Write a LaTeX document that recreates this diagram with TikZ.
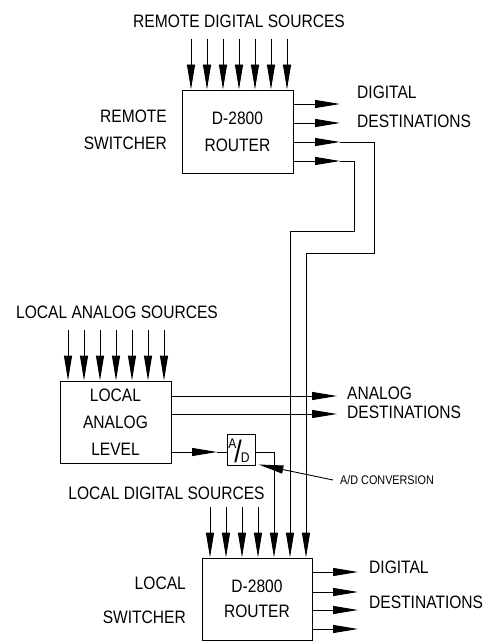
\documentclass[tikz,border=0pt]{standalone}
\usepackage{fontspec}
\setmainfont[FakeStretch=0.865]{Liberation Sans}
\usetikzlibrary{arrows.meta,calc}
\tikzset{
  sig/.style={line width=0.9pt},
  arr/.style={sig, -{Triangle[length=25pt,width=8pt]}},
  unit/.style={draw, line width=0.9pt, minimum width=#1, minimum height=82pt,
               inner sep=0pt, align=center, font=\fontsize{18}{27}\selectfont},
  unit/.default=111pt,
  txt/.style={inner sep=0pt, font=\fontsize{18}{22}\selectfont},
  conv/.style={draw, line width=0.9pt, minimum width=28pt, minimum height=31pt, inner sep=0pt},
}

\begin{document}
\begin{tikzpicture}[x=1pt,y=-1pt]
  \useasboundingbox (0,0) rectangle (485,642);
  % remote switcher
  \node[unit, minimum height=83pt] (rrt) at (237.5,131.5) {D-2800\\ROUTER};
  \node[txt] (rsrc) at (239,21) {REMOTE DIGITAL SOURCES};
  \node[txt, anchor=east, align=right, font=\fontsize{18}{27}\selectfont] (rsw) at (167,129.5) {REMOTE\\SWITCHER};
  \node[txt, anchor=west, align=left, font=\fontsize{18}{29}\selectfont] (rdst) at (357,106.5) {DIGITAL\\DESTINATIONS};
  \foreach \x [count=\i] in {191,207,...,287} {
    \coordinate (rs\i) at (\x,39);
    \draw[arr] (rs\i) -- (rs\i |- rrt.north);
  }
  \foreach \y [count=\i] in {104,123} {
    \coordinate (rd\i) at (340,\y);
    \draw[arr] (rrt.east |- rd\i) -- (rd\i);
  }
  \coordinate (k1) at (340,142);
  \coordinate (k2) at (340,161);
  \draw[arr] (rrt.east |- k1) -- (k1);
  \draw[arr] (rrt.east |- k2) -- (k2);

  % local analog level
  \node[unit] (ana) at (115.5,422) {LOCAL\\ANALOG\\LEVEL};
  \node[txt, anchor=west] (asrc) at (16,312) {LOCAL ANALOG SOURCES};
  \node[txt, anchor=west, align=left, font=\fontsize{18}{19}\selectfont] (adst) at (347,402.5) {ANALOG\\DESTINATIONS};
  \foreach \x [count=\i] in {68,84,...,164} {
    \coordinate (as\i) at (\x,330);
    \draw[arr] (as\i) -- (as\i |- ana.north);
  }
  \foreach \y [count=\i] in {396,414} {
    \coordinate (ad\i) at (337,\y);
    \draw[arr] (ana.east |- ad\i) -- (ad\i);
  }
  \node[conv] (adc) at (241,449.5)
    {\rule{0pt}{26.2pt}\fontsize{14}{14}\selectfont\raisebox{14.4pt}{A}\kern-2pt{\fontsize{31}{31}\selectfont/}\kern-1pt D\kern4pt};
  \coordinate (k3) at (217,452);
  \draw[arr] (ana.east |- k3) -- (k3);
  \draw[sig] (k3) -- (adc.west |- k3);
  \node[txt, anchor=west, font=\fontsize{12.5}{15}\selectfont] (adl) at (340,480) {A/D CONVERSION};
  \draw[arr] ($(adl.west)+(-7,0)$) -- ($(adc.south east)+(3,-1)$);

  % local switcher
  \node[unit=110pt, font=\fontsize{18}{25}\selectfont] (lrt) at (257,599) {D-2800\\ROUTER};
  \node[txt] (lsrc) at (166.5,493) {LOCAL DIGITAL SOURCES};
  \node[txt, anchor=east, align=right, font=\fontsize{18}{34}\selectfont] (lsw) at (186,600) {LOCAL\\SWITCHER};
  \node[txt, anchor=west, align=left, font=\fontsize{18}{35}\selectfont] (ldst) at (369,584.5) {DIGITAL\\DESTINATIONS};
  \foreach \x [count=\i] in {210,226,242,258} {
    \coordinate (ls\i) at (\x,507);
    \draw[arr] (ls\i) -- (ls\i |- lrt.north);
  }
  \foreach \y [count=\i] in {572,592,610,629} {
    \coordinate (ld\i) at (358,\y);
    \draw[arr] (lrt.east |- ld\i) -- (ld\i);
  }

  % links between levels
  \draw[arr] (adc.east |- k3) -- (274,452) -- (274,0 |- lrt.north);
  \draw[arr] (k1) -- ++(34,0) |- (306,253) -- (306,0 |- lrt.north);
  \draw[arr] (k2) -- ++(14,0) |- (290,231) -- (290,0 |- lrt.north);
\end{tikzpicture}
\end{document}
